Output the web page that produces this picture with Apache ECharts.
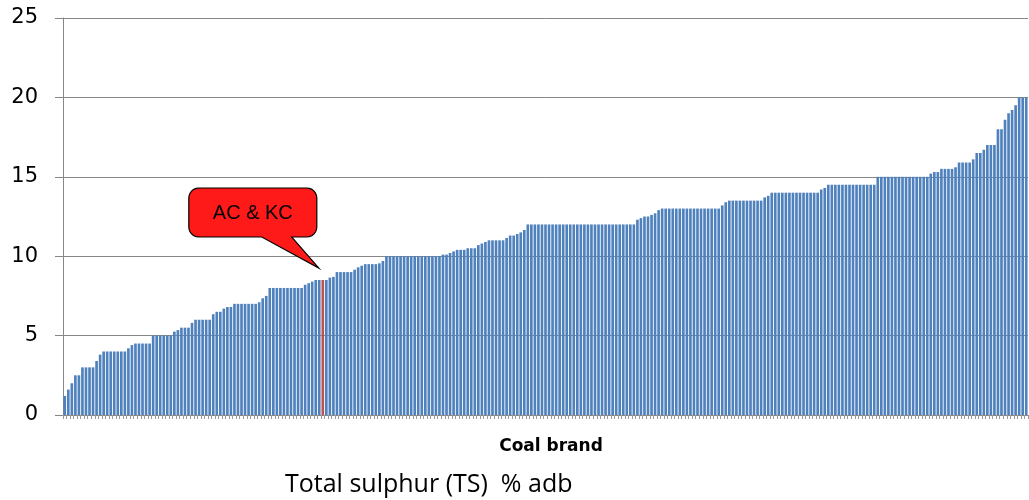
<!DOCTYPE html>
<html>
<head>
<meta charset="utf-8">
<script src="https://cdn.jsdelivr.net/npm/echarts@6/dist/echarts.min.js"></script>
<style>html,body{margin:0;padding:0;background:#fff}#c{width:1029px;height:500px}</style>
</head>
<body>
<div id="c"></div>
<script>
// Total sulphur (TS) % adb per coal brand, sorted ascending
const values = [
  1.2, 1.6, 2.0, 2.5, 2.5, 3.0, 3.0, 3.0, 3.0, 3.4, 3.8,
  4.0, 4.0, 4.0, 4.0, 4.0, 4.0, 4.0, 4.2, 4.4,
  4.5, 4.5, 4.5, 4.5, 4.5,
  5.0, 5.0, 5.0, 5.0, 5.0, 5.0, 5.25, 5.35, 5.5, 5.5, 5.5, 5.8,
  6.0, 6.0, 6.0, 6.0, 6.0, 6.35, 6.5, 6.5, 6.7, 6.8, 6.8,
  7.0, 7.0, 7.0, 7.0, 7.0, 7.0, 7.0, 7.1, 7.35, 7.5,
  8.0, 8.0, 8.0, 8.0, 8.0, 8.0, 8.0, 8.0, 8.0, 8.0,
  8.2, 8.3, 8.4, 8.5, 8.5, 8.5, 8.5, 8.65, 8.7,
  9.0, 9.0, 9.0, 9.0, 9.0, 9.15, 9.3, 9.4, 9.5, 9.5, 9.5, 9.5, 9.55, 9.7,
  10.0, 10.0, 10.0, 10.0, 10.0, 10.0, 10.0, 10.0, 10.0, 10.0, 10.0, 10.0, 10.0, 10.0, 10.0, 10.0,
  10.1, 10.1, 10.2, 10.3, 10.4, 10.4, 10.4, 10.5, 10.5, 10.5, 10.7, 10.8, 10.9,
  11.0, 11.0, 11.0, 11.0, 11.0, 11.15, 11.3, 11.3, 11.4, 11.5, 11.65,
  12.0, 12.0, 12.0, 12.0, 12.0, 12.0, 12.0, 12.0, 12.0, 12.0,
  12.0, 12.0, 12.0, 12.0, 12.0, 12.0, 12.0, 12.0, 12.0, 12.0,
  12.0, 12.0, 12.0, 12.0, 12.0, 12.0, 12.0, 12.0, 12.0, 12.0, 12.0,
  12.3, 12.4, 12.5, 12.5, 12.6, 12.7, 12.9,
  13.0, 13.0, 13.0, 13.0, 13.0, 13.0, 13.0, 13.0, 13.0, 13.0, 13.0, 13.0, 13.0, 13.0, 13.0, 13.0, 13.0,
  13.2, 13.4,
  13.5, 13.5, 13.5, 13.5, 13.5, 13.5, 13.5, 13.5, 13.5, 13.5, 13.7, 13.8,
  14.0, 14.0, 14.0, 14.0, 14.0, 14.0, 14.0, 14.0, 14.0, 14.0, 14.0, 14.0, 14.0, 14.0,
  14.2, 14.3,
  14.5, 14.5, 14.5, 14.5, 14.5, 14.5, 14.5, 14.5, 14.5, 14.5, 14.5, 14.5, 14.5, 14.5,
  15.0, 15.0, 15.0, 15.0, 15.0, 15.0, 15.0, 15.0, 15.0, 15.0, 15.0, 15.0, 15.0, 15.0, 15.0,
  15.2, 15.3, 15.3, 15.5, 15.5, 15.5, 15.5, 15.6, 15.9, 15.9, 15.9, 15.9, 16.1,
  16.5, 16.5, 16.7, 17.0, 17.0, 17.0, 18.0, 18.0, 18.6, 19.0, 19.2, 19.5, 20.0, 20.0, 20.0
];
const categories = values.map((v, i) => 'Brand ' + (i + 1));
const highlightIndex = 73;          // AC & KC
const calloutText = 'AC & KC';
const yTicks = [0, 5, 10, 15, 20, 25];
const xAxisTitle = 'Coal brand';
const chartCaption = 'Total sulphur (TS)  % adb';

const chart = echarts.init(document.getElementById('c'), null, {renderer: 'canvas'});
const gray = '#878787';
chart.setOption({
  animation: false,
  grid: {left: 63, right: 1, top: 18, bottom: 85, containLabel: false},
  xAxis: {
    type: 'category',
    data: categories,
    axisLine: {lineStyle: {color: gray, width: 1}},
    axisTick: {show: true, interval: 0, length: 4, lineStyle: {color: '#999'}},
    axisLabel: {show: false},
    splitLine: {show: false}
  },
  yAxis: {
    type: 'value',
    min: yTicks[0], max: yTicks[yTicks.length - 1], interval: 5,
    axisLine: {show: true, lineStyle: {color: gray, width: 1}},
    axisTick: {show: true, length: 8, lineStyle: {color: gray}},
    axisLabel: {fontFamily: 'DejaVu Sans', fontSize: 21, color: '#000', margin: 25},
    splitLine: {lineStyle: {color: gray, width: 1}}
  },
  series: [{
    type: 'bar',
    data: values.map((v, i) => i === highlightIndex
      ? {value: v, itemStyle: {color: '#C0504D'}}
      : v),
    barCategoryGap: '25%',
    itemStyle: {color: '#4F81BD'}
  }]
});

// Callout anchored to the highlighted bar
const tipBase = chart.convertToPixel({seriesIndex: 0}, [highlightIndex, values[highlightIndex]]);
const tx = tipBase[0] - 4, ty = tipBase[1] - 12;
const L = tx - 130, R = tx - 2, T = ty - 80, B = ty - 31, r = 10;
function arc(cx, cy, a0, a1) {
  const pts = [];
  for (let k = 0; k <= 6; k++) {
    const a = a0 + (a1 - a0) * k / 6;
    pts.push([cx + r * Math.cos(a), cy + r * Math.sin(a)]);
  }
  return pts;
}
const P = Math.PI;
const pts = [].concat(
  arc(L + r, T + r, P, 1.5 * P),
  arc(R - r, T + r, 1.5 * P, 2 * P),
  arc(R - r, B - r, 0, 0.5 * P),
  [[tx - 27, B], [tx, ty], [tx - 57, B]],
  arc(L + r, B - r, 0.5 * P, P)
);
chart.setOption({
  graphic: [
    {type: 'text', x: 551, y: 447, z: 50,
     style: {text: xAxisTitle, font: 'bold 17px "DejaVu Sans"', fill: '#000', align: 'center', verticalAlign: 'middle'}},
    {type: 'text', x: 285, y: 485, z: 50,
     style: {text: chartCaption, font: '25px "Open Sans", "DejaVu Sans"', fill: '#000', align: 'left', verticalAlign: 'middle'}},
    {type: 'polygon', shape: {points: pts}, style: {fill: '#FF1A1A', stroke: '#000', lineWidth: 1.2}, z: 100},
    {type: 'text', x: (L + R) / 2, y: (T + B) / 2 + 1, z: 101,
     style: {text: calloutText, font: '20px "Liberation Sans", Arial', fill: '#000', align: 'center', verticalAlign: 'middle'}}
  ]
});
</script>
</body>
</html>
